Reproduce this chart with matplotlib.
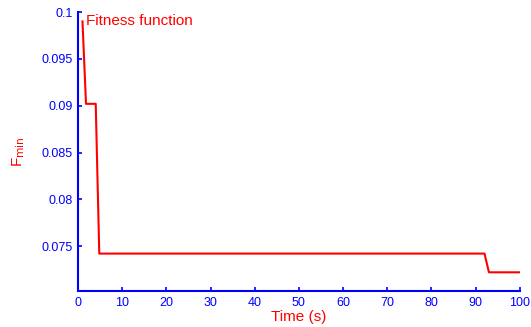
import matplotlib
matplotlib.use('Agg')
import matplotlib.pyplot as plt

# best fitness value over the run
time_s = [1, 1.8, 4, 4.8, 92, 93, 100]
f_min = [0.0990, 0.0902, 0.0902, 0.0742, 0.0742, 0.0722, 0.0722]

x_ticks = [0, 10, 20, 30, 40, 50, 60, 70, 80, 90, 100]
y_ticks = [0.075, 0.08, 0.085, 0.09, 0.095, 0.1]
y_tick_labels = ['0.075', '0.08', '0.085', '0.09', '0.095', '0.1']

plt.rcParams['font.family'] = ['Liberation Sans', 'DejaVu Sans']

fig = plt.figure(figsize=(5.31, 3.27), dpi=100)
ax = fig.add_axes([0.147, 0.110, 0.832, 0.853])

ax.plot(time_s, f_min, color='#ff0000', lw=1.5)
ax.text(1.9, 0.0991, 'Fitness function', color='#ff0000', fontsize=11,
        va='center', ha='left')

ax.set_xlim(0, 100)
ax.set_ylim(0.0702, 0.1)
ax.set_xticks(x_ticks)
ax.set_yticks(y_ticks)
ax.set_yticklabels(y_tick_labels)

for side in ['top', 'right']:
    ax.spines[side].set_visible(False)
for side in ['left', 'bottom']:
    ax.spines[side].set_color('#0000ff')
    ax.spines[side].set_linewidth(1.5)
ax.tick_params(direction='in', length=3, width=1.2, color='#0000ff',
               labelcolor='#0000ff', labelsize=9, pad=4)

ax.set_xlabel('Time (s)', color='#ff0000', fontsize=11, labelpad=1)
ax.set_ylabel(r'F$_{\mathrm{min}}$', color='#ff0000', fontsize=11, labelpad=10)

fig.savefig('out.png', dpi=100)
